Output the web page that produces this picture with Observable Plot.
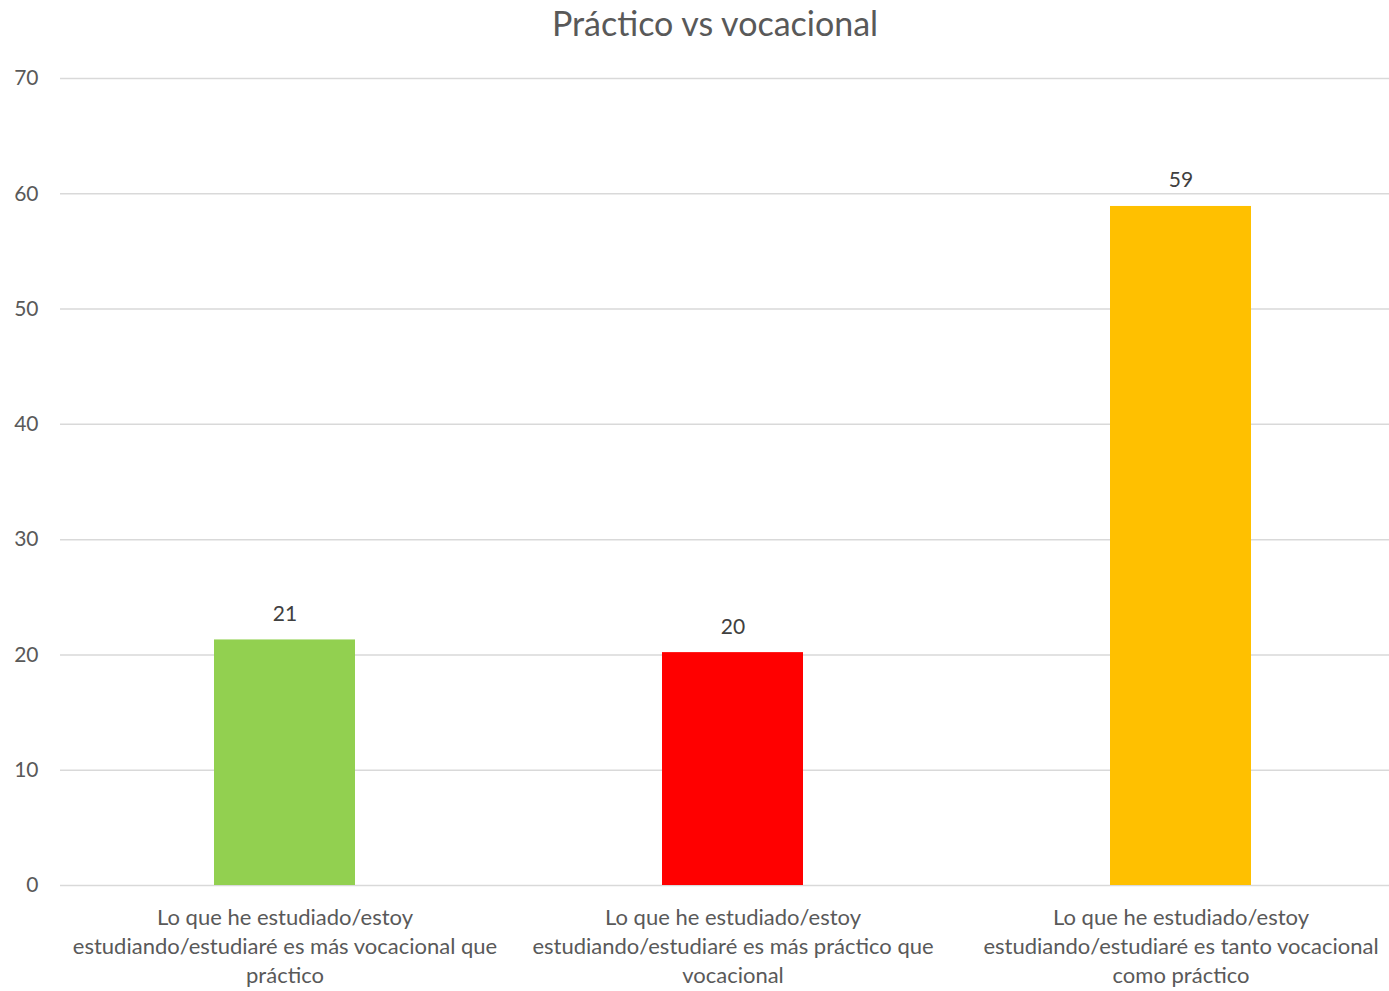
<!DOCTYPE html>
<html>
<head>
<meta charset="utf-8">
<script src="https://cdn.jsdelivr.net/npm/d3@7"></script>
<script src="https://cdn.jsdelivr.net/npm/@observablehq/plot@0.6"></script>
<style>
  html, body { margin: 0; padding: 0; background: #fff; overflow: hidden; }
  #title { position: absolute; top: 0; left: 0; width: 1430px; height: 45px; text-align: center;
           font-family: Lato, "Open Sans", sans-serif; font-size: 34px; line-height: 46px; color: #595959; }
  #chart { position: absolute; top: 45px; left: 0; }
</style>
</head>
<body>
<div id="title">Práctico vs vocacional</div>
<div id="chart"></div>
<script>
const categories = [
  "Lo que he estudiado/estoy\nestudiando/estudiaré es más vocacional que\npráctico",
  "Lo que he estudiado/estoy\nestudiando/estudiaré es más práctico que\nvocacional",
  "Lo que he estudiado/estoy\nestudiando/estudiaré es tanto vocacional\ncomo práctico"
];
const values = [21.3, 20.2, 58.9];
const valueLabels = ["21", "20", "59"];
const colors = ["#92D050", "#FF0000", "#FFC000"];
const yTicks = [0, 10, 20, 30, 40, 50, 60, 70];

const data = categories.map((c, i) => ({cat: c, value: values[i], label: valueLabels[i], color: colors[i]}));

const chart = Plot.plot({
  width: 1389,
  height: 946,
  marginTop: 33,
  marginBottom: 106,
  marginLeft: 60,
  marginRight: 0,
  style: {fontFamily: "Lato, 'Open Sans', sans-serif", background: "#fff"},
  x: {domain: categories, range: [61, 1405], paddingInner: 0.685, paddingOuter: 0.3425, label: null},
  y: {domain: [0, 70], label: null},
  marks: [
    Plot.ruleY(yTicks, {stroke: "#d9d9d9", strokeWidth: 1.5}),
    Plot.barY(data, {x: "cat", y: "value", fill: "color"}),
    Plot.text(data, {x: "cat", y: "value", text: "label", dy: -19, lineAnchor: "bottom", fontSize: 21, fill: "#404040"}),
    Plot.axisY(yTicks, {tickSize: 0, tickPadding: 22, fontSize: 21, fill: "#595959", label: null}),
    Plot.axisX({tickSize: 0, tickPadding: 19, fontSize: 22, lineHeight: 1.32, fill: "#595959", label: null})
  ]
});
document.getElementById("chart").appendChild(chart);
</script>
</body>
</html>
